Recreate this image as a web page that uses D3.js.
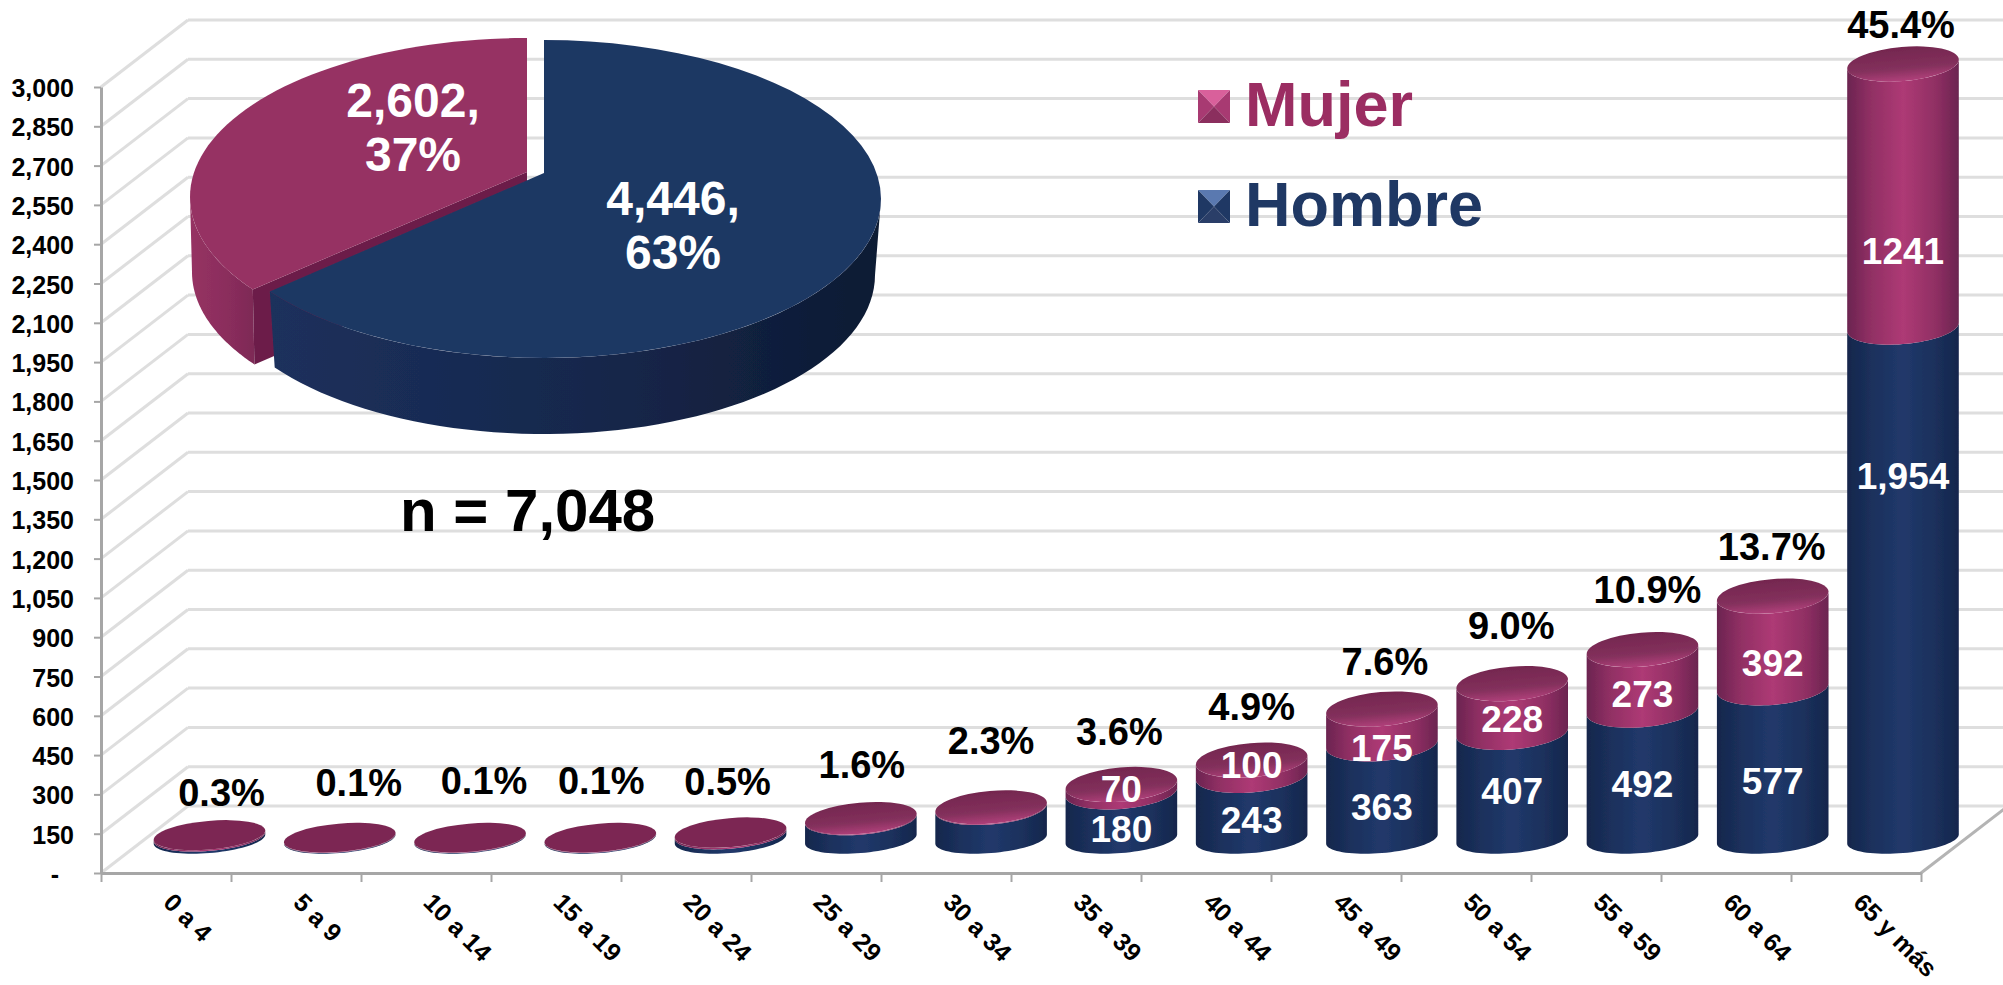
<!DOCTYPE html>
<html>
<head>
<meta charset="utf-8">
<title>Casos por edad y sexo</title>
<script src="https://cdn.jsdelivr.net/npm/d3@7"></script>
<style>
    body { margin: 0; background: #fff; }
    text { font-family: "Liberation Sans", Arial, sans-serif; font-weight: bold; }
</style>
</head>
<body>
<div id="chart"></div>
<script>
// values (small groups have no printed label, so they are estimated from the %)
var grupos = ["0 a 4", "5 a 9", "10 a 14", "15 a 19", "20 a 24", "25 a 29", "30 a 34", "35 a 39", "40 a 44", "45 a 49", "50 a 54", "55 a 59", "60 a 64", "65 y más"];
var hombre = [9, 3, 3, 3, 18, 76, 118, 180, 243, 363, 407, 492, 577, 1954];
var mujer = [12, 4, 4, 4, 17, 37, 45, 70, 100, 175, 228, 273, 392, 1241];
var porcentaje = ["0.3%", "0.1%", "0.1%", "0.1%", "0.5%", "1.6%", "2.3%", "3.6%", "4.9%", "7.6%", "9.0%", "10.9%", "13.7%", "45.4%"];
var etiquetaHombre = ["", "", "", "", "", "", "", "180", "243", "363", "407", "492", "577", "1,954"];
var etiquetaMujer = ["", "", "", "", "", "", "", "70", "100", "175", "228", "273", "392", "1241"];
var yTicks = [0, 150, 300, 450, 600, 750, 900, 1050, 1200, 1350, 1500, 1650, 1800, 1950, 2100, 2250, 2400, 2550, 2700, 2850, 3000];

var sexos = ["Hombre", "Mujer"];
var totalSexo = [4446, 2602];
var pieLabels = [["4,446,", "63%"], ["2,602,", "37%"]];
var nTotal = "n = 7,048";

// the labels in the original were moved by hand, so they need their own nudges
var pctDx = [12, 19, 14, 1, -3, 1, 0, -2, 0, 3, -1, 5, -1, -2];
var pctGap = [15, 28, 30, 30, 23, 25, 37, 23, 23, 17, 28, 30, 19, 9];
var hombreDy = [0, 0, 0, 0, 0, 0, 0, 13, 13, 15, 5, 9, 17, -107];
var mujerDy = [0, 0, 0, 0, 0, 0, 0, 1, -3, 21, 11, 14, 21, 55];

var width = 2003, height = 985;
var depthX = 87, depthY = -67;
var barLift = 34;      // bars stand this far back from the front axis line
var barRx = 56;
var tilt = -5 * Math.PI / 180;

var svg = d3.select("#chart").append("svg")
    .attr("width", width)
    .attr("height", height)
    .style("display", "block");

var defs = svg.append("defs");

function hGradient(id, stops) {
    var g = defs.append("linearGradient").attr("id", id);
    stops.forEach(function (s) {
        g.append("stop").attr("offset", s[0]).attr("stop-color", s[1]);
    });
}
hGradient("bodyHombre", [[0, "#15274c"], [0.22, "#1b305c"], [0.5, "#21396b"], [0.78, "#1b305c"], [1, "#15274c"]]);
hGradient("bodyMujer", [[0, "#6b2450"], [0.2, "#8f2f63"], [0.5, "#ae3a75"], [0.8, "#8f2f63"], [1, "#6b2450"]]);
hGradient("wallHombre", [[0, "#1c305c"], [0.5, "#16284d"], [1, "#0e1a33"]]);
hGradient("wallMujer", [[0, "#963263"], [0.6, "#8a2d5c"], [1, "#7d2a56"]]);

var capGrad = defs.append("linearGradient").attr("id", "capMujer")
    .attr("x1", 0).attr("y1", 0).attr("x2", 0).attr("y2", 1);
capGrad.append("stop").attr("offset", 0).attr("stop-color", "#74274f");
capGrad.append("stop").attr("offset", 0.62).attr("stop-color", "#83305c");
capGrad.append("stop").attr("offset", 1).attr("stop-color", "#b0407a");

defs.append("filter").attr("id", "soft")
    .append("feGaussianBlur").attr("stdDeviation", 0.6);

// scales
var y = d3.scaleLinear().domain([0, 3000]).range([873, 87]).clamp(true);
var x = d3.scaleBand().domain(grupos).range([101, 1921]);
var xEdges = d3.scaleLinear().domain([0, grupos.length]).range([101, 1921]);
var xBars = d3.scalePoint().domain(grupos).range([209.5, 1903]);

// ---- walls: grid on the back, diagonals on the side
var grid = svg.append("g").attr("stroke", "#dedede").attr("stroke-width", 3).attr("fill", "none");
grid.selectAll(".back").data(yTicks).enter().append("line")
    .attr("class", "back")
    .attr("x1", 101 + depthX).attr("x2", width)
    .attr("y1", function (d) { return y(d) + depthY; })
    .attr("y2", function (d) { return y(d) + depthY; });
grid.selectAll(".side").data(yTicks).enter().append("line")
    .attr("class", "side")
    .attr("x1", 101).attr("x2", 101 + depthX)
    .attr("y1", function (d) { return y(d); })
    .attr("y2", function (d) { return y(d) + depthY; });

svg.append("line")
    .attr("x1", x.range()[1]).attr("y1", y(0))
    .attr("x2", x.range()[1] + depthX).attr("y2", y(0) + depthY)
    .attr("stroke", "#b4b4b4").attr("stroke-width", 3);

// ---- axes
function styleAxis(g) {
    g.selectAll("path.domain").attr("stroke", "#a6a6a6").attr("stroke-width", 3);
    g.selectAll(".tick line").attr("stroke", "#a6a6a6").attr("stroke-width", 2);
    g.selectAll("text").attr("fill", "#000");
}

var yAxisG = svg.append("g")
    .attr("transform", "translate(101,0)")
    .call(d3.axisLeft(y).tickValues(yTicks).tickSize(7).tickSizeOuter(0).tickPadding(21)
        .tickFormat(function (d) { return d === 0 ? "-" : d3.format(",")(d); }))
    .call(styleAxis);
yAxisG.selectAll("text")
    .style("font-size", "25px")
    .attr("dy", "0.38em")
    .attr("x", function (d) { return d === 0 ? -42 : -27; });

svg.append("g")
    .attr("transform", "translate(0," + y(0) + ")")
    .call(d3.axisBottom(xEdges).tickValues(d3.range(grupos.length + 1)).tickSize(9).tickSizeOuter(0).tickFormat(""))
    .call(styleAxis);

var xAxisG = svg.append("g")
    .attr("transform", "translate(0," + y(0) + ")")
    .call(d3.axisBottom(x).tickSize(0));
xAxisG.select("path.domain").remove();
xAxisG.selectAll("text")
    .attr("fill", "#000")
    .style("font-size", "25px")
    .attr("text-anchor", "start")
    .attr("x", 0).attr("y", 0).attr("dy", 0)
    .attr("transform", "translate(-4,31) rotate(45)");

// ---- pie, exploded, seen from above
var pie = d3.pie().sort(null).value(function (d) { return d; });
var arcs = pie(totalSexo);

// perspective pushes the split between the slices a little further round
function persp(a) { return a + 0.14 * Math.sin(a / 2); }
function rimPoint(c, a) { return [c.x + c.rx * Math.sin(a), c.y - c.ry * Math.cos(a)]; }
function rimPath(c, a0, a1) {
    return d3.range(0, 61).map(function (i) { return rimPoint(c, a0 + (a1 - a0) * i / 60); });
}

var pieLine = d3.line();
var pieG = svg.append("g").attr("filter", "url(#soft)");
var split = persp(arcs[0].endAngle);

var topH = { x: 544, y: 199, rx: 337, ry: 159 }, lowH = { x: 544, y: 275, rx: 331, ry: 159 };
var topM = { x: 527, y: 197, rx: 337, ry: 159 }, lowM = { x: 527, y: 272, rx: 335, ry: 159 };
var apexH = [544, 173], apexM = [527, 172];

// Mujer: side wall, dark cut face, top
pieG.append("path")
    .attr("d", pieLine(rimPath(topM, 1.5 * Math.PI, split).concat(rimPath(lowM, split, 1.5 * Math.PI))) + "Z")
    .attr("fill", "url(#wallMujer)");
pieG.append("path")
    .attr("d", pieLine([apexM, rimPoint(topM, split), rimPoint(lowM, split), [apexM[0], apexM[1] + 75]]) + "Z")
    .attr("fill", "#6c1f4a");
pieG.append("path")
    .attr("d", pieLine([apexM].concat(rimPath(topM, split, 2 * Math.PI))) + "Z")
    .attr("fill", "#963263");

// Hombre: side wall and top
pieG.append("path")
    .attr("d", pieLine(rimPath(topH, 0.5 * Math.PI, split).concat(rimPath(lowH, split, 0.5 * Math.PI))) + "Z")
    .attr("fill", "url(#wallHombre)");
pieG.append("path")
    .attr("d", pieLine([apexH].concat(rimPath(topH, 0, split))) + "Z")
    .attr("fill", "#1f3864");

var pieText = svg.append("g").attr("fill", "#fff").attr("text-anchor", "middle").style("font-size", "48px");
var pieSpots = [{ x: 673, y: 198 }, { x: 413, y: 100 }];
pieLabels.forEach(function (lines, i) {
    lines.forEach(function (t, k) {
        pieText.append("text")
            .attr("x", pieSpots[i].x)
            .attr("y", pieSpots[i].y + k * 54)
            .attr("dy", "0.36em")
            .text(t);
    });
});

svg.append("text")
    .attr("x", 400).attr("y", 531)
    .attr("fill", "#000")
    .style("font-size", "60px")
    .text(nTotal);

// ---- legend
var legendColors = {
    Mujer: { text: "#9b2d62", top: "#d9609b", side: "#a83a72", bottom: "#8b2f5e" },
    Hombre: { text: "#1f3864", top: "#5a79b0", side: "#1f3864", bottom: "#2a3e68" }
};
var legendOrder = sexos.slice().reverse();
var legendG = svg.selectAll(".legend").data(legendOrder).enter().append("g")
    .attr("class", "legend")
    .attr("transform", function (d, i) { return "translate(1198," + (90 + i * 100) + ")"; });
var sw = 32, sh = 33;
[["top", [[0, 0], [sw, 0], [sw / 2, sh / 2]]],
 ["side", [[0, 0], [0, sh], [sw / 2, sh / 2]]],
 ["side", [[sw, 0], [sw, sh], [sw / 2, sh / 2]]],
 ["bottom", [[0, sh], [sw, sh], [sw / 2, sh / 2]]]].forEach(function (part) {
    legendG.append("path")
        .attr("d", pieLine(part[1]) + "Z")
        .attr("fill", function (d) { return legendColors[d][part[0]]; });
});
legendG.append("text")
    .attr("x", 47).attr("y", 36)
    .attr("fill", function (d) { return legendColors[d].text; })
    .style("font-size", "63px")
    .text(function (d) { return d; });

// ---- bars, stacked cylinders
var capRy = d3.scaleLinear().domain([0, 40]).range([14, 17]).clamp(true);
var capDrop = function (h) { return Math.min(11, h * 0.3); };  // the top sits lower than the scale says

function frontRim(cx, cy, ry) {
    var t0 = Math.atan(-(ry / barRx) * Math.tan(tilt));
    return d3.range(0, 41).map(function (i) {
        var t = t0 + Math.PI * i / 40;
        return [
            cx + barRx * Math.cos(t) * Math.cos(tilt) - ry * Math.sin(t) * Math.sin(tilt),
            cy + barRx * Math.cos(t) * Math.sin(tilt) + ry * Math.sin(t) * Math.cos(tilt)
        ];
    });
}
function bodyPath(cx, y0, ry0, y1, ry1) {
    return pieLine(frontRim(cx, y0, ry0).concat(frontRim(cx, y1, ry1).reverse())) + "Z";
}

var rows = grupos.map(function (g, i) {
    var base = y(0) - barLift;
    var topFull = y(hombre[i] + mujer[i]) - barLift;
    var yH = y(hombre[i]) - barLift;
    var yT = topFull + capDrop(base - topFull);
    return {
        i: i, cx: xBars(g), base: base, yH: yH, yT: yT,
        ryH: capRy(base - yH), ryT: capRy(base - yT)
    };
});

var barG = svg.selectAll(".bar").data(rows).enter().append("g")
    .attr("class", "bar")
    .attr("filter", "url(#soft)");
barG.append("path")
    .attr("d", function (d) { return bodyPath(d.cx, d.base, capRy(0), d.yH, d.ryH); })
    .attr("fill", "url(#bodyHombre)");
barG.append("path")
    .attr("d", function (d) { return bodyPath(d.cx, d.yH, d.ryH, d.yT, d.ryT); })
    .attr("fill", "url(#bodyMujer)");
barG.append("ellipse")
    .attr("transform", function (d) { return "translate(" + d.cx + "," + d.yT + ") rotate(-5)"; })
    .attr("rx", barRx)
    .attr("ry", function (d) { return d.ryT; })
    .attr("fill", function (d) { return d.base - d.yT > 15 ? "url(#capMujer)" : "#7b2852"; });

var labelG = svg.selectAll(".barLabels").data(rows).enter().append("g")
    .attr("class", "barLabels")
    .attr("text-anchor", "middle");
labelG.append("text")
    .attr("x", function (d) { return d.cx; })
    .attr("y", function (d) { return (d.base + d.yH) / 2 + hombreDy[d.i]; })
    .attr("dy", "0.36em")
    .attr("fill", "#fff")
    .style("font-size", "37px")
    .text(function (d) { return etiquetaHombre[d.i]; });
labelG.append("text")
    .attr("x", function (d) { return d.cx; })
    .attr("y", function (d) { return (d.yH + d.yT) / 2 + mujerDy[d.i]; })
    .attr("dy", "0.36em")
    .attr("fill", "#fff")
    .style("font-size", "37px")
    .text(function (d) { return etiquetaMujer[d.i]; });
labelG.append("text")
    .attr("x", function (d) { return d.cx + pctDx[d.i]; })
    .attr("y", function (d) { return d.yT - d.ryT - pctGap[d.i]; })
    .attr("fill", "#000")
    .style("font-size", "38px")
    .text(function (d) { return porcentaje[d.i]; });
</script>
</body>
</html>
